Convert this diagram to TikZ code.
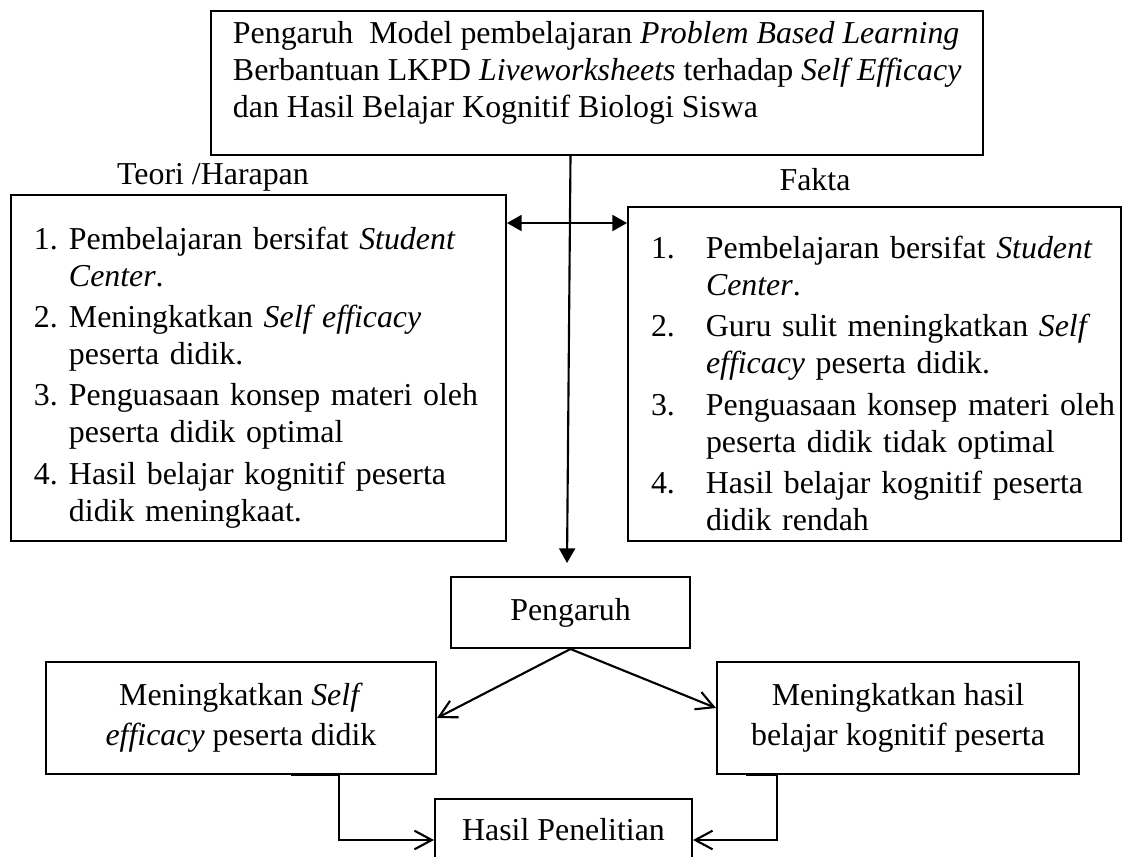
\documentclass[tikz,border=0pt]{standalone}
\usepackage{fontspec}
\setmainfont{Liberation Serif}
\usetikzlibrary{arrows.meta,positioning,calc}
\newlength{\pxu}\setlength{\pxu}{0.3765pt}
\newlength{\indenbutir}
\newcommand{\butir}[3]{\par\vspace{1.5pt}\noindent\makebox[\indenbutir][l]{#1}\mbox{#2}\newline\hspace*{\indenbutir}\mbox{#3}}
\tikzset{kotak/.style={draw,line width=0.75pt,inner sep=0pt,font=\fontsize{12pt}{14pt}\selectfont},
  daftar/.style={kotak,anchor=north west,align=left},
  tengah/.style={kotak,align=center,font=\fontsize{12pt}{15pt}\selectfont},
  keterangan/.style={font=\fontsize{12pt}{14pt}\selectfont},
  penuh/.style={line width=0.8pt,-{Triangle[length=5.5pt,width=6pt]}},
  dua/.style={line width=0.8pt,{Triangle[length=5.5pt,width=6pt]}-{Triangle[length=5.5pt,width=6pt]}},
  terbuka/.style={line width=0.8pt,-{Straight Barb[length=6.5pt,width=7pt]}}}

\begin{document}
\begin{tikzpicture}[x=\pxu,y=-\pxu]
\useasboundingbox (0,0) rectangle (1124,856);
\node[kotak,anchor=north west,align=left,inner xsep=22\pxu,minimum height=144\pxu] (judul) at (210,10)
  {Pengaruh\ \ Model pembelajaran \textit{Problem Based Learning}\\
   Berbantuan LKPD \textit{Liveworksheets} terhadap \textit{Self Efficacy}\\
   dan Hasil Belajar Kognitif Biologi Siswa\rule[-10pt]{0pt}{10pt}};
\node[keterangan] (labelteori) at (213,177) {Teori /Harapan};
\node[keterangan] (labelfakta) at (815,180) {Fakta};
\node[daftar,minimum width=495\pxu,minimum height=346\pxu,text width=449\pxu] (harapan) at (10,194)
  {\setlength{\indenbutir}{35\pxu}%
   \butir{1.}{Pembelajaran bersifat \textit{Student}}{\textit{Center}.}
   \butir{2.}{Meningkatkan \textit{Self efficacy}}{peserta didik.}
   \butir{3.}{Penguasaan konsep materi oleh}{peserta didik optimal}
   \butir{4.}{Hasil belajar kognitif peserta}{didik meningkaat.}};
\node[daftar,minimum width=493\pxu,minimum height=334\pxu,text width=447\pxu] (fakta) at (627,206)
  {\setlength{\indenbutir}{55\pxu}%
   \butir{1.}{Pembelajaran bersifat \textit{Student}}{\textit{Center}.}
   \butir{2.}{Guru sulit meningkatkan \textit{Self}}{\textit{efficacy} peserta didik.}
   \butir{3.}{Penguasaan konsep materi oleh}{peserta didik tidak optimal}
   \butir{4.}{Hasil belajar kognitif peserta}{didik rendah}};
\node[tengah,minimum width=239\pxu,minimum height=71\pxu] (pengaruh) at (570.5,612.5) {Pengaruh};
\node[tengah,minimum width=390\pxu,minimum height=112\pxu] (efikasi) at (241,718)
  {Meningkatkan \textit{Self}\\\textit{efficacy} peserta didik};
\node[tengah,minimum width=362\pxu,minimum height=112\pxu] (hasilbelajar) at (898,718)
  {Meningkatkan hasil\\belajar kognitif peserta};
\node[tengah,minimum width=257\pxu,minimum height=62\pxu] (penelitian) at (563.5,830) {Hasil Penelitian};
\coordinate (ujung) at (567,563);
\coordinate (sejajar) at (0,223);
\draw[penuh] (judul.south -| pengaruh.north) -- (ujung);
\draw[dua] (harapan.east |- sejajar) -- (fakta.west |- sejajar);
\draw[terbuka] (pengaruh.south) -- (efikasi.east);
\draw[terbuka] (pengaruh.south) -- ([yshift=10\pxu]hasilbelajar.west);
\draw[terbuka] ([xshift=50\pxu]efikasi.south) -- ++(48,0) |- ([yshift=-10\pxu]penelitian.west);
\draw[terbuka] ([xshift=-152\pxu]hasilbelajar.south) -- ++(31,0) |- ([yshift=-10\pxu]penelitian.east);
\end{tikzpicture}
\end{document}
